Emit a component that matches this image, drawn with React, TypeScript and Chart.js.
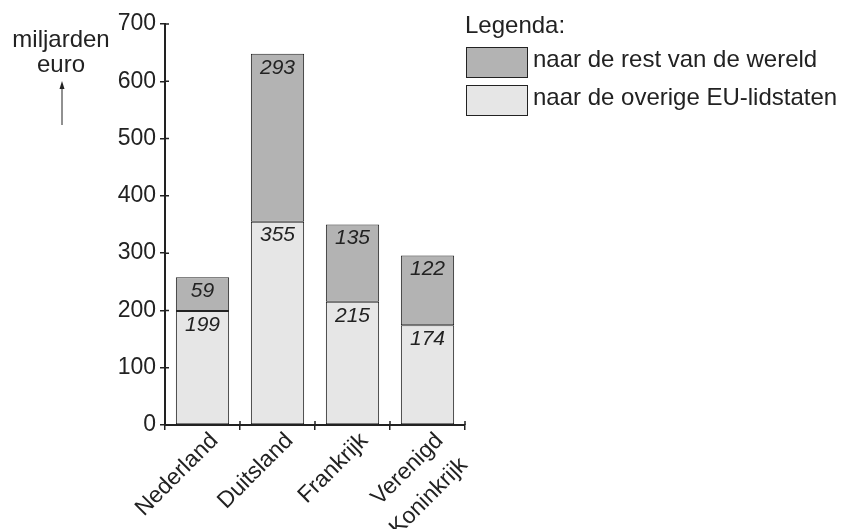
import React, { useEffect, useRef } from "react";
import { Chart, registerables } from "chart.js";

Chart.register(...registerables);

const categories: (string | string[])[] = ["Nederland", "Duitsland", "Frankrijk", ["Verenigd", "Koninkrijk"]];
const euValues = [199, 355, 215, 174];
const worldValues = [59, 293, 135, 122];
const yTicks = [0, 100, 200, 300, 400, 500, 600, 700];
const euLabel = "naar de overige EU-lidstaten";
const worldLabel = "naar de rest van de wereld";
const legendTitle = "Legenda:";
const axisTitle = ["miljarden", "euro"];

const FONT = "'Liberation Sans', Arial, Helvetica, sans-serif";
const INK = "#222";
const LIGHT = "#e6e6e6";
const DARK = "#b3b3b3";

const extrasPlugin = {
  id: "extras",
  afterDatasetsDraw(chart: any) {
    const ctx = chart.ctx;
    ctx.save();
    ctx.fillStyle = INK;
    ctx.font = `italic 21px ${FONT}`;
    ctx.textAlign = "center";
    ctx.textBaseline = "top";
    chart.data.datasets.forEach((ds: any, di: number) => {
      const meta = chart.getDatasetMeta(di);
      meta.data.forEach((bar: any, i: number) => {
        ctx.fillText(String(ds.data[i]), bar.x, bar.y + 3.5);
      });
    });
    ctx.restore();
  },
  afterDraw(chart: any) {
    const ctx = chart.ctx;
    const ys = chart.scales.y;
    const xs = chart.scales.x;
    ctx.save();
    // inward ticks
    ctx.strokeStyle = INK;
    ctx.lineWidth = 1.5;
    ctx.beginPath();
    yTicks.forEach((v) => {
      const py = ys.getPixelForValue(v);
      ctx.moveTo(xs.left, py);
      ctx.lineTo(xs.left + 4, py);
    });
    const n = categories.length;
    for (let i = 0; i <= n; i++) {
      const px = xs.left + (i * (xs.right - xs.left)) / n;
      ctx.moveTo(px, ys.bottom);
      ctx.lineTo(px, ys.bottom - 4);
    }
    ctx.stroke();

    // axis title
    ctx.fillStyle = INK;
    ctx.font = `24px ${FONT}`;
    ctx.textAlign = "center";
    ctx.textBaseline = "alphabetic";
    ctx.fillText(axisTitle[0], 61, 47);
    ctx.fillText(axisTitle[1], 61, 72);
    // arrow
    ctx.lineWidth = 1;
    ctx.beginPath();
    ctx.moveTo(62, 125);
    ctx.lineTo(62, 84);
    ctx.stroke();
    ctx.beginPath();
    ctx.moveTo(62, 81);
    ctx.lineTo(59.5, 89);
    ctx.lineTo(64.5, 89);
    ctx.closePath();
    ctx.fill();

    // legend
    ctx.font = `24px ${FONT}`;
    ctx.textAlign = "left";
    ctx.textBaseline = "alphabetic";
    ctx.fillText(legendTitle, 465, 33);
    const items = [
      { label: worldLabel, color: DARK, y: 47, base: 67 },
      { label: euLabel, color: LIGHT, y: 85, base: 105 },
    ];
    items.forEach((it) => {
      ctx.fillStyle = it.color;
      ctx.fillRect(466, it.y, 61, 30);
      ctx.strokeStyle = INK;
      ctx.lineWidth = 1;
      ctx.strokeRect(466.5, it.y + 0.5, 61, 30);
      ctx.fillStyle = INK;
      ctx.fillText(it.label, 533, it.base);
    });
    ctx.restore();
  },
};

export default function App() {
  const canvasRef = useRef<HTMLCanvasElement | null>(null);

  useEffect(() => {
    document.body.style.margin = "0";
    const canvas = canvasRef.current;
    if (!canvas) return;
    const chart = new Chart(canvas, {
      type: "bar",
      data: {
        labels: categories,
        datasets: [
          {
            label: euLabel,
            data: euValues,
            backgroundColor: LIGHT,
            borderColor: INK,
            borderWidth: 1,
            borderSkipped: false,
            barPercentage: 0.71,
            categoryPercentage: 1,
          },
          {
            label: worldLabel,
            data: worldValues,
            backgroundColor: DARK,
            borderColor: INK,
            borderWidth: 1,
            borderSkipped: false,
            barPercentage: 0.71,
            categoryPercentage: 1,
          },
        ],
      },
      options: {
        animation: false,
        responsive: false,
        maintainAspectRatio: false,
        layout: { padding: { left: 80, right: 376, top: 24, bottom: 0 } },
        plugins: {
          legend: { display: false },
          tooltip: { enabled: false },
          title: { display: false },
        },
        scales: {
          x: {
            stacked: true,
            offset: true,
            grid: {
              display: true,
              drawOnChartArea: false,
              offset: true,
              tickLength: 5,
              color: INK,
              lineWidth: 1.5,
            },
            border: { display: true, color: INK, width: 2 },
            ticks: {
              color: INK,
              font: { family: FONT, size: 23, lineHeight: 1.5 },
              minRotation: 45,
              maxRotation: 45,
              autoSkip: false,
              padding: -5,
              labelOffset: 12,
            },
            afterFit: (s: any) => {
              s.height = 104;
              s.paddingLeft = 0;
              s.paddingRight = 0;
            },
          },
          y: {
            stacked: true,
            min: 0,
            max: 700,
            grid: {
              display: true,
              drawOnChartArea: false,
              tickLength: 5,
              color: INK,
              lineWidth: 1.5,
            },
            border: { display: true, color: INK, width: 2 },
            ticks: {
              stepSize: 100,
              color: INK,
              font: { family: FONT, size: 23 },
              padding: 4,
            },
            afterFit: (s: any) => {
              s.width = 85;
              s.paddingTop = 0;
              s.paddingBottom = 0;
            },
          },
        },
      },
      plugins: [extrasPlugin],
    });
    return () => chart.destroy();
  }, []);

  return (
    <div style={{ width: 841, height: 529, position: "relative" }}>
      <canvas ref={canvasRef} width={841} height={529} style={{ display: "block" }} />
    </div>
  );
}
